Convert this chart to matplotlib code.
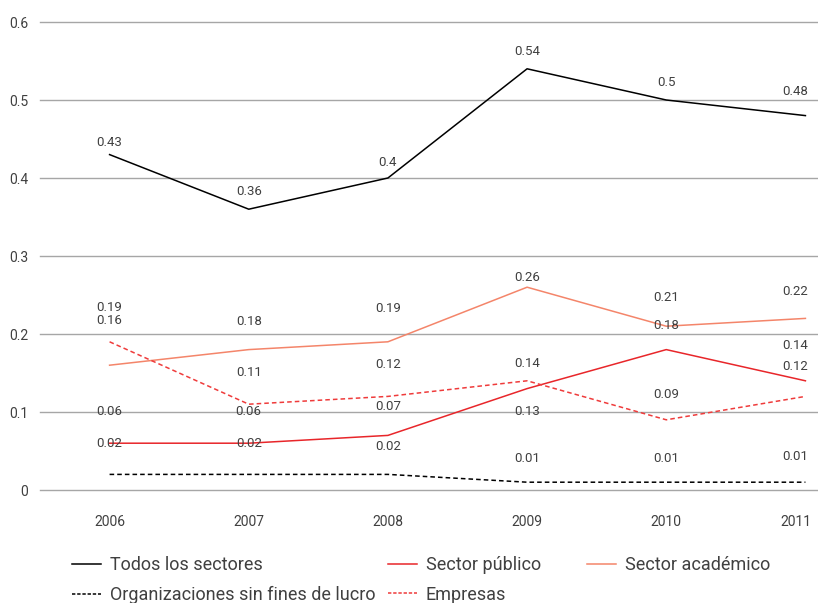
import matplotlib
matplotlib.use("Agg")
import matplotlib.pyplot as plt
from matplotlib.lines import Line2D
from matplotlib.transforms import ScaledTranslation

years = ["2006", "2007", "2008", "2009", "2010", "2011"]

todos = [0.43, 0.36, 0.40, 0.54, 0.50, 0.48]
publico = [0.06, 0.06, 0.07, 0.13, 0.18, 0.14]
academico = [0.16, 0.18, 0.19, 0.26, 0.21, 0.22]
organizaciones = [0.02, 0.02, 0.02, 0.01, 0.01, 0.01]
empresas = [0.19, 0.11, 0.12, 0.14, 0.09, 0.12]

y_ticks = [0, 0.1, 0.2, 0.3, 0.4, 0.5, 0.6]
y_tick_labels = ["0", "0.1", "0.2", "0.3", "0.4", "0.5", "0.6"]

# value labels sit above (or below) the points by these many pixels
label_dy = {
    "todos": [12, 18, 16, 17, 17, 24],
    "publico": [32, 32, 29, -23, 24, 35],
    "academico": [45, 28, 33, 10, 29, 27],
    "organizaciones": [31, 31, 28, 24, 24, 26],
    "empresas": [34, 32, 32, 17, 25, 30],
}

FONT = ["Roboto", "DejaVu Sans"]
TEXT_COLOR = "#404040"
GRID_COLOR = "#a6a6a6"

plt.rcParams["font.family"] = FONT

series = [
    ("todos", "Todos los sectores", todos, "#000000", "-"),
    ("publico", "Sector público", publico, "#e8262a", "-"),
    ("academico", "Sector académico", academico, "#f4856a", "-"),
    ("organizaciones", "Organizaciones sin fines de lucro", organizaciones, "#000000", "--"),
    ("empresas", "Empresas", empresas, "#ef3b3b", "--"),
]

fig = plt.figure(figsize=(8.18, 6.03), dpi=100)
W, H = 818, 603
ax = fig.add_axes([40 / W, 113 / H, 835 / W, 468 / H])

x = list(range(len(years)))
handles = {}
for key, name, values, color, ls in series:
    ax.plot(x, values, color=color, linestyle=ls, linewidth=1.1,
            dashes=(3, 2) if ls == "--" else (None, None), zorder=3)
    handles[key] = Line2D([], [], color=color, linestyle=ls, linewidth=1.1,
                          dashes=(2.2, 1.2) if ls == "--" else (None, None))
    for i, v in enumerate(values):
        dx = -10 if i == len(values) - 1 else 0
        ax.annotate(f"{v:g}", (i, v), xytext=(dx, label_dy[key][i]),
                    textcoords="offset pixels", ha="center", va="center",
                    fontsize=9.5, color=TEXT_COLOR, zorder=4)

ax.set_xlim(-0.5, len(years) - 0.5)
ax.set_ylim(0, 0.6)
ax.set_yticks(y_ticks)
ax.set_yticklabels(y_tick_labels)
ax.set_xticks(x)
ax.set_xticklabels(years)
ax.tick_params(axis="y", length=0, pad=8.5, labelsize=10, labelcolor=TEXT_COLOR)
ax.tick_params(axis="x", length=0, pad=18, labelsize=10, labelcolor=TEXT_COLOR)
last = ax.get_xticklabels()[-1]
last.set_transform(last.get_transform() + ScaledTranslation(-0.1, 0, fig.dpi_scale_trans))
for s in ax.spines.values():
    s.set_visible(False)
ax.grid(axis="y", color=GRID_COLOR, linewidth=1.0, zorder=1)
for gl in ax.get_ygridlines():
    gl.set_clip_on(False)
ax.set_axisbelow(True)

# legend: three columns placed separately
columns = [
    (["todos", "organizaciones"], 72),
    (["publico", "empresas"], 388),
    (["academico"], 587),
]
names = {key: name for key, name, *_ in series}
for keys, left in columns:
    fig.legend([handles[k] for k in keys], [names[k] for k in keys],
               loc="upper left", bbox_to_anchor=(left / W, 1 - 556 / H),
               frameon=False, fontsize=13, handlelength=1.6,
               handletextpad=0.5, labelspacing=0.65, borderaxespad=0,
               borderpad=0, labelcolor=TEXT_COLOR)

fig.savefig("out.png", dpi=100)
